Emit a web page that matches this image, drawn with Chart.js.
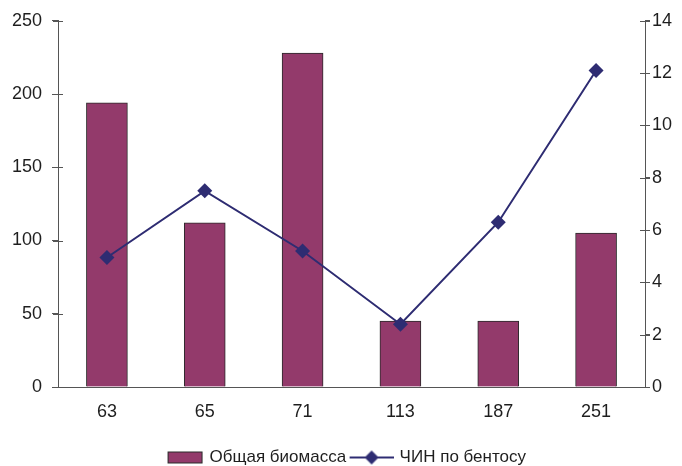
<!DOCTYPE html>
<html><head><meta charset="utf-8">
<style>html,body{margin:0;padding:0;background:#fff}#wrap{width:682px;height:466px}</style>
<script src="https://cdn.jsdelivr.net/npm/chart.js@4/dist/chart.umd.min.js"></script>
</head><body><div id="wrap"><canvas id="c" width="682" height="466"></canvas></div>
<script>
const categories = ['63', '65', '71', '113', '187', '251'];
const biomass = [194, 112, 228, 45, 45, 105];
const chin = [4.95, 7.5, 5.2, 2.4, 6.3, 12.1];
const leftTicks = [0, 50, 100, 150, 200, 250];
const rightTicks = [0, 2, 4, 6, 8, 10, 12, 14];
const seriesNames = ['Общая биомасса', 'ЧИН по бентосу'];

const BAR_COLOR = '#933a6b';
const BAR_BORDER = '#2a2a2a';
const LINE_COLOR = '#2e2c72';
const AXIS_COLOR = '#555555';
const TEXT_COLOR = '#1e1e1e';
const FONT = "'Liberation Sans', Arial, sans-serif";

function makeBarSwatch() {
  const c = document.createElement('canvas');
  c.width = 50; c.height = 14;
  const g = c.getContext('2d');
  g.fillStyle = BAR_COLOR; g.fillRect(14.5, 1.5, 34, 11);
  g.strokeStyle = BAR_BORDER; g.lineWidth = 1; g.strokeRect(14.5, 1.5, 34, 11);
  return c;
}
function makeLineSwatch() {
  const c = document.createElement('canvas');
  c.width = 50; c.height = 16;
  const g = c.getContext('2d');
  g.strokeStyle = LINE_COLOR; g.lineWidth = 2;
  g.beginPath(); g.moveTo(6, 8); g.lineTo(50, 8); g.stroke();
  g.fillStyle = LINE_COLOR;
  g.beginPath(); g.moveTo(28, 1); g.lineTo(35, 8); g.lineTo(28, 15); g.lineTo(21, 8); g.closePath(); g.fill();
  return c;
}

const crossTicks = {
  id: 'crossTicks',
  afterDraw(chart) {
    const ctx = chart.ctx;
    ctx.save();
    ctx.strokeStyle = AXIS_COLOR; ctx.lineWidth = 1;
    [['y', 'left'], ['y1', 'right']].forEach(([id, side]) => {
      const s = chart.scales[id];
      const ax = side === 'left' ? chart.chartArea.left : chart.chartArea.right;
      s.ticks.forEach(t => {
        const py = Math.round(s.getPixelForValue(t.value)) + 0.5;
        ctx.beginPath();
        ctx.moveTo(ax - 5, py); ctx.lineTo(ax + 5, py);
        ctx.stroke();
      });
    });
    ctx.restore();
  }
};

new Chart(document.getElementById('c'), {
  data: {
    labels: categories,
    datasets: [
      {
        type: 'line', label: seriesNames[1], data: chin, yAxisID: 'y1', order: 0,
        borderColor: LINE_COLOR, backgroundColor: LINE_COLOR, borderWidth: 2,
        pointStyle: 'rectRot', pointRadius: 7.5, pointBorderWidth: 0, tension: 0
      },
      {
        type: 'bar', label: seriesNames[0], data: biomass, yAxisID: 'y', order: 1,
        backgroundColor: BAR_COLOR, borderColor: BAR_BORDER, borderWidth: 1,
        barThickness: 41, borderSkipped: 'start'
      }
    ]
  },
  options: {
    responsive: false, animation: false,
    layout: { padding: { top: 8, right: 0, left: 0, bottom: -10 } },
    plugins: {
      tooltip: { enabled: false },
      legend: {
        position: 'bottom',
        labels: {
          usePointStyle: true, pointStyleWidth: 45, padding: 0,
          color: TEXT_COLOR, font: { family: FONT, size: 17 },
          generateLabels: () => [
            { text: seriesNames[0], pointStyle: makeBarSwatch(), fillStyle: BAR_COLOR, strokeStyle: BAR_BORDER, lineWidth: 0, datasetIndex: 1, fontColor: TEXT_COLOR },
            { text: seriesNames[1], pointStyle: makeLineSwatch(), fillStyle: LINE_COLOR, strokeStyle: LINE_COLOR, lineWidth: 0, datasetIndex: 0, fontColor: TEXT_COLOR }
          ]
        }
      }
    },
    scales: {
      x: {
        type: 'category',
        grid: { display: true, drawOnChartArea: false, drawTicks: false },
        border: { display: true, color: AXIS_COLOR, width: 1 },
        ticks: { color: TEXT_COLOR, font: { family: FONT, size: 18 }, padding: 14 },
        afterFit: s => { s.height = 62; }
      },
      y: {
        position: 'left', min: 0, max: 250,
        afterBuildTicks: s => { s.ticks = leftTicks.map(v => ({ value: v })); },
        grid: { drawOnChartArea: false, drawTicks: true, tickLength: 6, color: AXIS_COLOR },
        border: { display: true, color: AXIS_COLOR, width: 1 },
        ticks: { color: TEXT_COLOR, font: { family: FONT, size: 18 }, padding: 10 },
        afterFit: s => { s.width = 58; }
      },
      y1: {
        position: 'right', min: 0, max: 14,
        afterBuildTicks: s => { s.ticks = rightTicks.map(v => ({ value: v })); },
        grid: { drawOnChartArea: false, drawTicks: true, tickLength: 5, color: AXIS_COLOR },
        border: { display: true, color: AXIS_COLOR, width: 1 },
        ticks: { color: TEXT_COLOR, font: { family: FONT, size: 18 }, padding: 2 },
        afterFit: s => { s.width = 37; }
      }
    }
  },
  plugins: [crossTicks]
});
</script></body></html>
